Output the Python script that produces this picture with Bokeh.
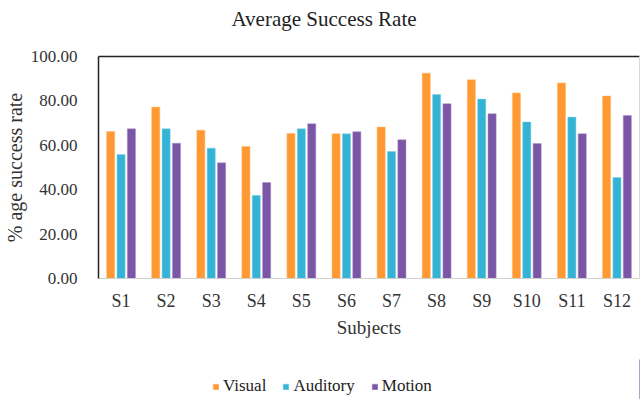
from bokeh.plotting import figure
from bokeh.layouts import column
from bokeh.models import ColumnDataSource, FactorRange, Legend, LegendItem, NumeralTickFormatter, FixedTicker, LinearAxis, Label
from bokeh.transform import dodge
from bokeh.embed import file_html
from bokeh.resources import INLINE

subjects = ["S1", "S2", "S3", "S4", "S5", "S6", "S7", "S8", "S9", "S10", "S11", "S12"]
visual = [66.2, 77.2, 66.8, 59.5, 65.3, 65.2, 68.2, 92.5, 89.5, 83.6, 88.1, 82.2]
auditory = [55.9, 67.4, 58.7, 37.4, 67.4, 65.2, 57.2, 82.9, 80.8, 70.5, 72.7, 45.5]
motion = [67.4, 60.9, 52.1, 43.2, 69.7, 66.1, 62.5, 78.7, 74.2, 60.8, 65.2, 73.4]
series_names = ["Visual", "Auditory", "Motion"]
y_ticks = [0, 20, 40, 60, 80, 100]
title_text = "Average Success Rate"

FONT = "Liberation Serif"
COLORS = ["#FF9933", "#35B3D6", "#7B55A6"]
EDGES = ["#FFB86B", "#7FD0E6", "#A88BC8"]
src = ColumnDataSource(dict(s=subjects, v=visual, a=auditory, m=motion))

# title strip
tt = figure(width=640, height=36, x_range=(0, 1), y_range=(0, 1), output_backend="svg",
            toolbar_location=None, min_border=0, outline_line_color=None)
tt.axis.visible = False
tt.grid.visible = False
tt.title = None
tt.add_layout(Label(x=133, y=18, x_units="screen", y_units="screen", text=title_text,
                    text_font=FONT, text_font_size="21px", text_color="#222222",
                    text_baseline="middle", text_align="left"))

p = figure(width=640, height=323, x_range=FactorRange(*subjects, range_padding=0),
           y_range=(0, 100), output_backend="svg", toolbar_location=None,
           min_border_left=95, min_border_right=1, min_border_top=20, min_border_bottom=81)
p.title = None

for col, off, c, e in zip(["v", "a", "m"], [-0.23, 0.0, 0.23], COLORS, EDGES):
    p.vbar(x=dodge("s", off, range=p.x_range), top=col, width=0.18, source=src,
           fill_color=c, line_color=e, line_width=0.5)

p.xgrid.visible = False
p.ygrid.visible = False
p.outline_line_color = None

p.yaxis.ticker = FixedTicker(ticks=y_ticks)
p.yaxis.formatter = NumeralTickFormatter(format="0.00")
p.yaxis.major_tick_line_color = None
p.yaxis.minor_tick_line_color = None
p.yaxis.axis_line_color = "#222222"
p.yaxis.axis_line_width = 1.5
p.yaxis.major_label_text_font = FONT
p.yaxis.major_label_text_font_size = "17px"
p.yaxis.major_label_text_color = "#333333"
p.yaxis.axis_label = "% age success rate"
p.yaxis.axis_label_text_font = FONT
p.yaxis.axis_label_text_font_style = "normal"
p.yaxis.axis_label_text_font_size = "20px"
p.yaxis.axis_label_text_color = "#333333"
p.yaxis.major_label_standoff = 15
p.yaxis.axis_label_standoff = 2

p.xaxis.major_tick_line_color = None
p.xaxis.minor_tick_line_color = None
p.xaxis.axis_line_color = "#D0D0D0"
p.xaxis.major_label_text_font = FONT
p.xaxis.major_label_text_font_size = "18px"
p.xaxis.major_label_text_color = "#333333"
p.xaxis.major_label_standoff = 6
p.xaxis.axis_label = "Subjects"
p.xaxis.axis_label_text_font = FONT
p.xaxis.axis_label_text_font_style = "normal"
p.xaxis.axis_label_text_font_size = "19px"
p.xaxis.axis_label_text_color = "#333333"
p.xaxis.axis_label_standoff = 3

top_axis = LinearAxis(ticker=FixedTicker(ticks=[]), axis_line_color="#222222", axis_line_width=1.5,
                      major_tick_line_color=None, minor_tick_line_color=None,
                      major_label_text_font_size="0px", major_label_standoff=0)
p.add_layout(top_axis, "above")
right_axis = LinearAxis(ticker=FixedTicker(ticks=[]), axis_line_color="#D8D8D8", axis_line_width=1,
                        major_tick_line_color=None, minor_tick_line_color=None, major_label_text_font_size="0px")
p.add_layout(right_axis, "right")

# legend strip
lg = figure(width=640, height=40, x_range=(0, 1), y_range=(0, 1), output_backend="svg",
            toolbar_location=None, min_border=0, outline_line_color=None)
lg.axis.visible = False
lg.grid.visible = False
items = []
for name, c, e in zip(series_names, COLORS, EDGES):
    r = lg.vbar(x=[5], top=[1], width=0.1, fill_color=c, line_color=e, line_width=0.5)
    items.append(LegendItem(label=name, renderers=[r]))
legend = Legend(items=items, orientation="horizontal", location=(114, 3),
                label_text_font=FONT, label_text_font_size="17px",
                label_text_color="#222222",
                glyph_width=7, glyph_height=7, label_standoff=4, spacing=16,
                border_line_color=None, background_fill_alpha=0, padding=0, margin=0)
lg.add_layout(legend, "center")

layout = column(tt, p, lg, spacing=0)
open("out.html", "w").write(file_html(layout, INLINE))
